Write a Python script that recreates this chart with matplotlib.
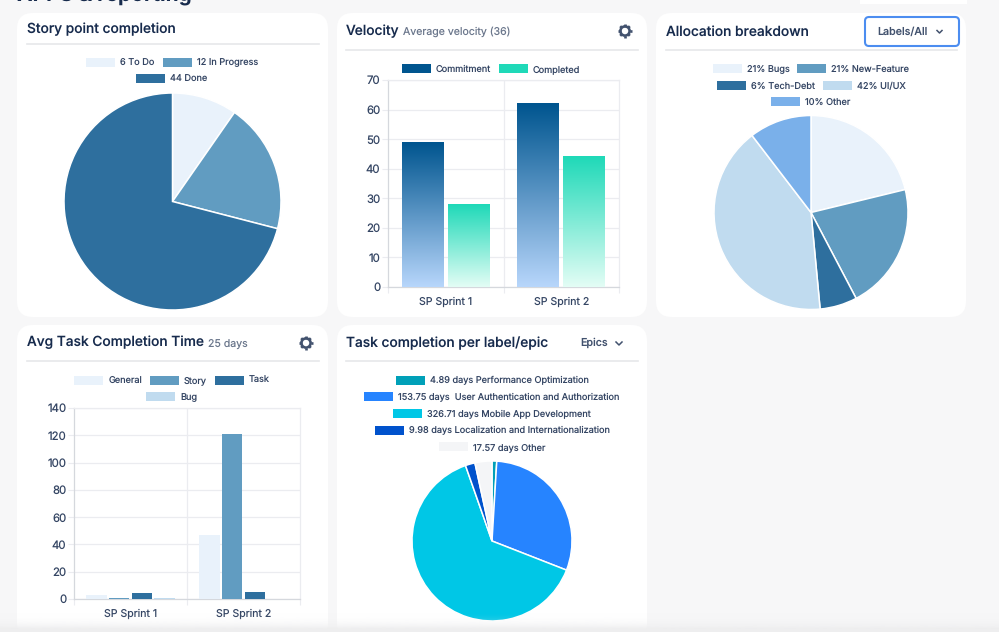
#!/usr/bin/env python3
import numpy as np
import matplotlib
matplotlib.use("Agg")
import matplotlib.pyplot as plt
from matplotlib.patches import FancyBboxPatch, Rectangle, Circle

W, H = 999, 632
plt.rcParams["font.family"] = ["Inter", "DejaVu Sans"]
plt.rcParams["text.hinting"] = "no_hinting"

NAVY = "#172b4d"
TEXT = "#344563"
MUTED = "#6b778c"
GRID = "#ebecf0"
AXIS = "#d5d8dd"

story_values = [6, 12, 44]
story_labels = ["6 To Do", "12 In Progress", "44 Done"]
story_colors = ["#e9f2fb", "#619cc1", "#2e6f9e"]

sprints = ["SP Sprint 1", "SP Sprint 2"]
commitment = [49, 62]
completed = [28, 44]
velocity_ticks = [0, 10, 20, 30, 40, 50, 60, 70]

# slice sizes, the legend only gives rounded percents
alloc_values = [21.2, 21.1, 6.2, 41.1, 10.4]
alloc_labels = ["21% Bugs", "21% New-Feature", "6% Tech-Debt", "42% UI/UX", "10% Other"]
alloc_colors = ["#e9f2fb", "#619cc1", "#2e6f9e", "#c0dbef", "#7ab0ea"]

task_types = ["General", "Story", "Task", "Bug"]
general_days = [2.7, 47]
story_days = [1, 121]
task_days = [4.2, 5.1]
bug_days = [0.8, 0.3]
time_colors = ["#e9f2fb", "#619cc1", "#2e6f9e", "#c0dbef"]
time_ticks = [0, 20, 40, 60, 80, 100, 120, 140]

epic_values = [4.89, 153.75, 326.71, 9.98, 17.57]
epic_labels = ["4.89 days Performance Optimization",
               "153.75 days  User Authentication and Authorization",
               "326.71 days Mobile App Development",
               "9.98 days Localization and Internationalization",
               "17.57 days Other"]
epic_colors = ["#00a0b8", "#2684ff", "#00c7e6", "#0052cc", "#f4f5f7"]

fig = plt.figure(figsize=(W / 100, H / 100), dpi=100, facecolor="#f7f7f8")

# background layer in pixel coordinates, y going down
bg = fig.add_axes([0, 0, 1, 1], zorder=0)
bg.set_xlim(0, W)
bg.set_ylim(H, 0)
bg.axis("off")

# top layer for what sits over the charts
top = fig.add_axes([0, 0, 1, 1], zorder=5)
top.set_xlim(0, W)
top.set_ylim(H, 0)
top.axis("off")
top.patch.set_alpha(0)


def pixel_axes(left, top_y, right, bottom):
    return fig.add_axes([left / W, 1 - bottom / H, (right - left) / W, (bottom - top_y) / H], zorder=2)


def card(x0, y0, x1, y1):
    bg.add_patch(FancyBboxPatch((x0 + 16, y0 + 16), x1 - x0 - 32, y1 - y0 - 32,
                                boxstyle="round,pad=16,rounding_size=16", fc="white", ec="none"))


def header(x0, x1, line_y, title_y, title, sub=None, sub_x=None):
    bg.text(x0 + 10, title_y + 4, title, fontsize=9.9, color=NAVY, va="baseline", fontweight="medium")
    if sub:
        bg.text(sub_x, title_y + 4, sub, fontsize=7.6, color=MUTED, va="baseline")
    bg.plot([x0 + 10, x1 - 9], [line_y, line_y], color="#e6e7ea", lw=1.2)


def legend(cx, rows, y0, labels, colors, step=16.7):
    # every row is centred on cx, like the chart.js legend
    renderer = fig.canvas.get_renderer()
    k = 0
    for r, n in enumerate(rows):
        y = y0 + r * step
        items = []
        for i in range(k, k + n):
            t = bg.text(0, y + 3.3, labels[i], fontsize=6.6, color=TEXT, va="baseline")
            items.append((t, t.get_window_extent(renderer).width, colors[i]))
        k += n
        total = sum(29 + 5 + w for _, w, _ in items) + 8 * (n - 1)
        x = cx - total / 2
        for t, w, c in items:
            bg.add_patch(Rectangle((x, y - 4.5), 29, 9, fc=c, ec="none"))
            t.set_x(x + 34)
            x += 34 + w + 8


def pie(cx, cy, r, values, colors):
    ax = pixel_axes(cx - r - 2, cy - r - 2, cx + r + 2, cy + r + 2)
    ax.pie(values, colors=colors, startangle=90, counterclock=False, radius=r / (r + 2),
           wedgeprops={"edgecolor": "white", "linewidth": 1.1})
    ax.set_xlim(-1, 1)
    ax.set_ylim(-1, 1)


def gradient_bar(ax, patch, c_top, c_bottom):
    a = np.array(matplotlib.colors.to_rgb(c_top))
    b = np.array(matplotlib.colors.to_rgb(c_bottom))
    f = np.linspace(0, 1, 128)[:, None, None]
    img = a[None, None, :] * (1 - f) + b[None, None, :] * f
    x, w, h = patch.get_x(), patch.get_width(), patch.get_height()
    im = ax.imshow(img, extent=(x, x + w, 0, h), aspect="auto", zorder=3, interpolation="bilinear")
    patch.set_visible(False)
    return im


def style_bar_axes(ax, ticks, ymax):
    ax.set_xlim(-0.5, 1.5)
    ax.set_ylim(0, ymax)
    ax.set_yticks(ticks)
    # tick marks on the category edges, labels in the middle
    ax.set_xticks([-0.5, 0.5, 1.5], ["", "", ""])
    ax.set_xticks([0, 1], sprints, minor=True)
    ax.set_axisbelow(True)
    ax.grid(axis="y", color=GRID, lw=0.9)
    ax.axvline(0.5, color=GRID, lw=0.9, zorder=1)
    for s in ["top", "right"]:
        ax.spines[s].set_color(GRID)
        ax.spines[s].set_linewidth(0.9)
    for s in ["left", "bottom"]:
        ax.spines[s].set_color(AXIS)
        ax.spines[s].set_linewidth(0.9)
    ax.tick_params(axis="y", labelsize=8.2, labelcolor=TEXT, color=GRID, length=4, pad=1.5)
    ax.tick_params(axis="x", which="major", color=GRID, length=4)
    ax.tick_params(axis="x", which="minor", labelsize=7.6, labelcolor=TEXT, length=0, pad=7)


def gear(cx, cy):
    angles = np.arange(8) * np.pi / 4
    for a in angles:
        bg.plot([cx + 4.5 * np.cos(a), cx + 6.8 * np.cos(a)], [cy + 4.5 * np.sin(a), cy + 6.8 * np.sin(a)],
                color="#42526e", lw=1.9, solid_capstyle="butt")
    bg.add_patch(Circle((cx, cy), 4.6, fc="white", ec="#42526e", lw=1.9))


card(17, 13, 328, 317)
card(337, 13, 647, 317)
card(656, 13, 966, 317)
card(17, 325, 328, 640)
card(337, 325, 647, 640)

# page heading, cut off by the top of the screenshot
bg.text(17, 1.5, "APPS & reporting", fontsize=15, color=NAVY, va="baseline", fontweight="bold", clip_on=True)
bg.add_patch(Rectangle((860, 0), 107, 4, fc="white", ec="none"))

header(17, 328, 43.5, 29, "Story point completion")
legend(172, [2, 1], 62, story_labels, story_colors)
pie(172.5, 201.5, 108.5, story_values, story_colors)

header(336, 647, 49.5, 31, "Velocity", "Average velocity (36)", 403)
gear(625, 31)
legend(491, [2], 68.5, ["Commitment", "Completed"], ["#00558f", "#1fd9b8"])
ax = pixel_axes(388, 80, 619, 287)
xs = np.arange(len(sprints))
b1 = ax.bar(xs - 0.2, commitment, 0.362)
b2 = ax.bar(xs + 0.2, completed, 0.362)
for p in b1:
    gradient_bar(ax, p, "#00558f", "#b7d6fb")
for p in b2:
    gradient_bar(ax, p, "#1fd9b8", "#e3fdf5")
style_bar_axes(ax, velocity_ticks, 70)

header(656, 966, 50, 32, "Allocation breakdown")
legend(811, [2, 2, 1], 68.5, alloc_labels, alloc_colors)
pie(811, 212.5, 97, alloc_values, alloc_colors)
bg.add_patch(FancyBboxPatch((868, 20), 88, 23, boxstyle="round,pad=3,rounding_size=4",
                            fc="white", ec="#4c8df0", lw=1.5))
bg.text(877, 31.5, "Labels/All", fontsize=7.7, color="#42526e", va="center", fontweight="medium")
bg.plot([937, 939.5, 942], [30.5, 33, 30.5], color="#42526e", lw=1.1)

header(17, 328, 361, 342.5, "Avg Task Completion Time", "25 days", 208)
gear(306, 343)
legend(172, [3, 1], 380, task_types, time_colors)
ax = pixel_axes(74, 408, 300, 599)
for i, (vals, c) in enumerate(zip([general_days, story_days, task_days, bug_days], time_colors)):
    ax.bar(xs + (i - 1.5) * 0.2, vals, 0.182, color=c, zorder=3)
style_bar_axes(ax, time_ticks, 140)

header(336, 647, 361, 343, "Task completion per label/epic")
bg.text(580, 343, "Epics", fontsize=7.7, color="#42526e", va="center", fontweight="medium")
bg.plot([616, 619, 622], [342, 345, 342], color="#42526e", lw=1.1)
legend(492, [1, 1, 1, 1, 1], 380, epic_labels, epic_colors)
pie(492, 541, 80, epic_values, epic_colors)

# the screenshot fades out at the bottom edge
fade = np.ones((64, 1, 4))
fade[:, :, :3] = matplotlib.colors.to_rgb("#eeeeef")
fade[:, 0, 3] = np.linspace(0, 1, 64) ** 3
top.imshow(fade, extent=(0, W, 629, 610), aspect="auto", zorder=1)
top.add_patch(Rectangle((0, 629), W, 3, fc="#eeeeef", ec="none"))
top.set_xlim(0, W)
top.set_ylim(H, 0)

fig.savefig("out.png", dpi=100, facecolor=fig.get_facecolor())
